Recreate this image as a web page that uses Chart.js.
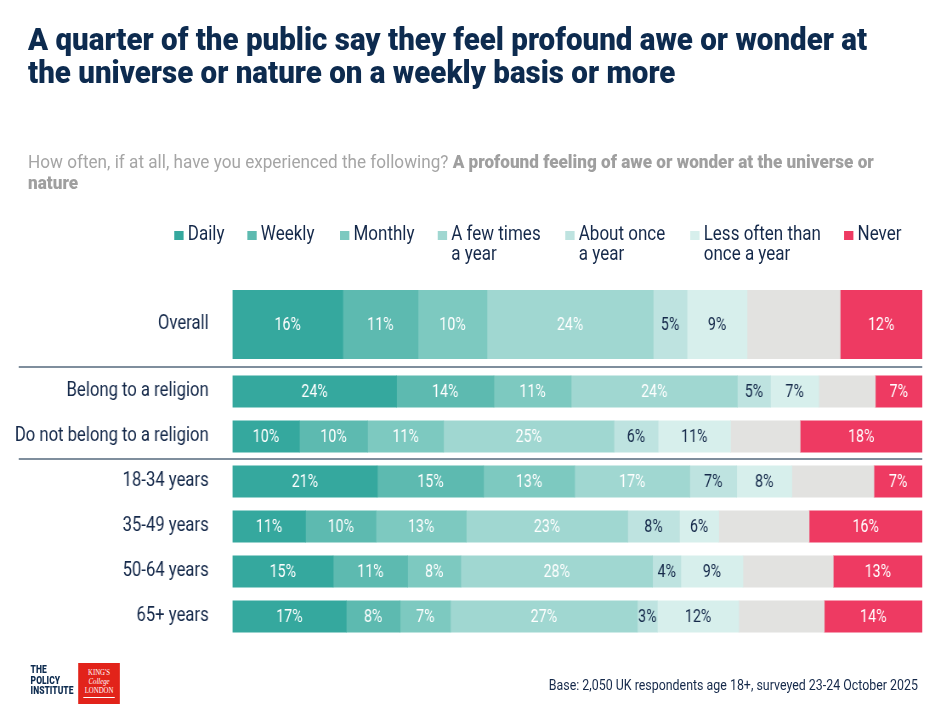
<!DOCTYPE html>
<html>
<head>
<meta charset="utf-8">
<script src="https://cdn.jsdelivr.net/npm/chart.js@4.4.1/dist/chart.umd.min.js"></script>
<style>
  body { margin: 0; width: 950px; height: 710px; background: #fff; overflow: hidden; }
  /* whole page is squeezed horizontally to imitate the condensed house font */
  #page { position: absolute; left: 0; top: 0; width: 1118px; height: 710px; transform: scaleX(0.85); transform-origin: 0 0;
          font-family: Roboto, "Liberation Sans", sans-serif; }
  #title { position: absolute; left: 33px; top: 23px; white-space: nowrap; font-weight: 900; font-size: 32px;
           line-height: 33.3px; color: #0d2b4f; transform: scaleX(1.085); transform-origin: 0 0; }
  #subtitle { position: absolute; left: 33px; top: 151px; width: 925px; font-size: 18px; line-height: 21px; color: #a5a5a5;
              transform: scaleX(1.12); transform-origin: 0 0; }
  #subtitle b { color: #9f9f9f; font-weight: 900; }
  .lg { position: absolute; top: 223px; display: flex; align-items: flex-start; font-size: 20px; line-height: 20px;
        color: #15294a; white-space: pre; }
  .lg i { display: inline-block; width: 11.2px; height: 9px; margin: 7.5px 4.7px 0 0; flex: none; }
  canvas { position: absolute; left: 0; }
  #c1 { top: 290px; }
  #c2 { top: 360px; }
  #logo1 { position: absolute; left: 36px; top: 665px; font: 900 10px/10.7px Roboto, sans-serif; color: #0d2b4f; }
  #logo2 { position: absolute; left: 92px; top: 663px; width: 49px; height: 41px; background: #e2231a; color: #fff;
           font: 8px/9px "Liberation Serif", serif; text-align: center; padding-top: 5px; box-sizing: border-box; }
  #logo2 span { display: block; border-bottom: 1px solid #fff; margin: 2px 6px 0; }
  #base { position: absolute; right: 38px; top: 676px; font-size: 14.6px; color: #15294a; }
</style>
</head>
<body>
<div id="page">
<div id="title">A quarter of the public say they feel profound awe or wonder at<br>the universe or nature on a weekly basis or more</div>
<div id="subtitle">How often, if at all, have you experienced the following? <b>A profound feeling of awe or wonder at the universe or nature</b></div>
<div id="legend"></div>
<canvas id="c1" width="1118" height="69"></canvas>
<canvas id="c2" width="1118" height="279"></canvas>
<div id="logo1">THE<br>POLICY<br>INSTITUTE</div>
<div id="logo2">KING'S<br><i>College</i><br>LONDON<span></span></div>
<div id="base">Base: 2,050 UK respondents age 18+, surveyed 23-24 October 2025</div>
</div>
<script>
// --- data ---
const categories = ['Overall', 'Belong to a religion', 'Do not belong to a religion',
  '18-34 years', '35-49 years', '50-64 years', '65+ years'];
const seriesNames = ['Daily', 'Weekly', 'Monthly', 'A few times\na year', 'About once\na year',
  'Less often than\nonce a year', "Don't know", 'Never'];

const daily     = [16.0, 23.8,  9.7, 21.0, 10.6, 14.6, 16.5];
const weekly    = [10.9, 14.1,  9.9, 15.4, 10.2, 10.8,  7.8];
const monthly   = [10.0, 11.2, 11.0, 13.2, 13.1,  7.7,  7.3];
const fewTimes  = [24.1, 24.1, 24.7, 16.7, 23.4, 27.8, 27.1];
const onceYear  = [ 4.9,  4.8,  6.4,  6.8,  7.5,  4.1,  2.9];
const lessOften = [ 8.7,  7.0, 10.5,  8.0,  5.7,  9.0, 11.8];
const dontKnow  = [13.5,  8.2, 10.1, 11.9, 13.1, 13.1, 12.4];
const never     = [11.9,  6.8, 17.7,  7.0, 16.4, 12.9, 14.2];

// --- styling ---
const colors = ['#35a89e', '#5dbab0', '#7dc9c0', '#a0d7d1', '#bee3e0', '#d7efec', '#e2e2e0', '#ee3a62'];
const labelColors = ['#fff', '#fff', '#fff', '#fff', '#15294a', '#15294a', null, '#fff'];
const legendX = [205, 291, 400, 515, 665, 812, null, 993];   // in page (unsqueezed) px
const FONT = 'Roboto, "Liberation Sans", sans-serif';
const allSeries = [daily, weekly, monthly, fewTimes, onceYear, lessOften, dontKnow, never];

// legend (grey "don't know" is not listed)
const legendEl = document.getElementById('legend');
seriesNames.forEach((name, i) => {
  if (legendX[i] === null) return;
  const d = document.createElement('div');
  d.className = 'lg';
  d.style.left = legendX[i] + 'px';
  d.innerHTML = `<i style="background:${colors[i]}"></i><span>${name}</span>`;
  legendEl.appendChild(d);
});

const segLabels = {
  id: 'segLabels',
  afterDatasetsDraw(chart) {
    const ctx = chart.ctx;
    chart.data.datasets.forEach((ds, di) => {
      if (!labelColors[di]) return;
      chart.getDatasetMeta(di).data.forEach((bar, j) => {
        ctx.save();
        ctx.translate((bar.x + bar.base) / 2, bar.y + 1);
        ctx.scale(0.88, 1);
        ctx.font = '19px ' + FONT;
        ctx.textAlign = 'center';
        ctx.textBaseline = 'middle';
        ctx.fillStyle = labelColors[di];
        ctx.fillText(Math.round(ds.data[j]) + '%', 0, 0);
        ctx.restore();
      });
    });
  }
};

const separators = {
  id: 'separators',
  afterDraw(chart) {
    const ctx = chart.ctx, y = chart.scales.y;
    const pitch = y.getPixelForValue(1) - y.getPixelForValue(0);
    ctx.save();
    ctx.strokeStyle = '#7f8e9d';
    ctx.lineWidth = 2;
    [y.getPixelForValue(0) - pitch / 2 - 2, (y.getPixelForValue(1) + y.getPixelForValue(2)) / 2].forEach(py => {
      ctx.beginPath();
      ctx.moveTo(22, py);
      ctx.lineTo(chart.chartArea.right, py);
      ctx.stroke();
    });
    ctx.restore();
  }
};

function makeChart(id, from, to, thickness, padTop, extraPlugins) {
  return new Chart(document.getElementById(id), {
    type: 'bar',
    data: {
      labels: categories.slice(from, to),
      datasets: allSeries.map((s, i) => ({
        label: seriesNames[i],
        data: s.slice(from, to),
        backgroundColor: colors[i],
        borderWidth: 0,
        barThickness: thickness
      }))
    },
    options: {
      indexAxis: 'y',
      responsive: false,
      animation: false,
      devicePixelRatio: 1,
      layout: { padding: { top: padTop, right: 33, bottom: 0, left: 0 } },
      plugins: { legend: { display: false }, tooltip: { enabled: false } },
      scales: {
        x: { stacked: true, min: 0, max: 100, display: false },
        y: {
          stacked: true,
          grid: { display: false },
          border: { display: false },
          ticks: { color: '#15294a', font: { family: FONT, size: 19.6 }, padding: 20 },
          afterFit(scale) {
            scale.width = 273.5;
            scale.paddingTop = 0;
            scale.paddingBottom = 0;
          }
        }
      }
    },
    plugins: [segLabels].concat(extraPlugins)
  });
}

makeChart('c1', 0, 1, 69, 0, []);
makeChart('c2', 1, 7, 31.5, 9, [separators]);
</script>
</body>
</html>
